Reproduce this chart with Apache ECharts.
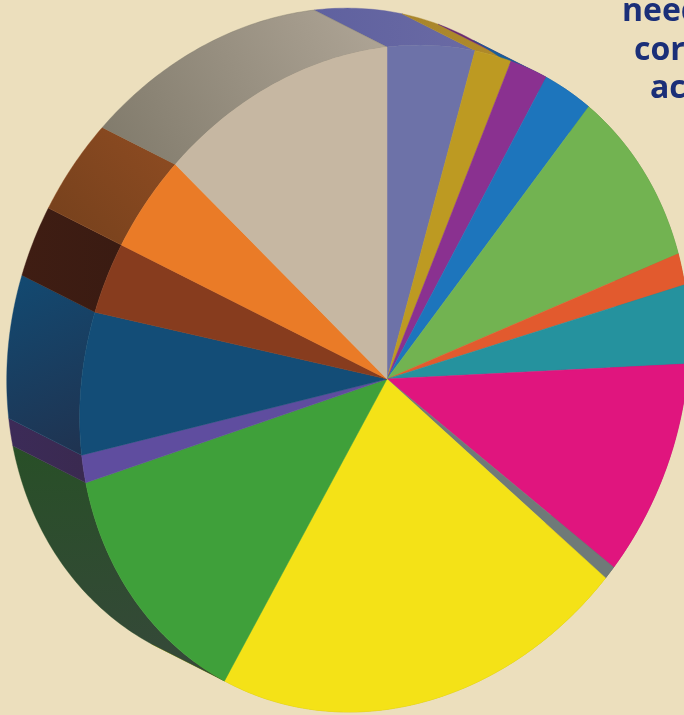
<!DOCTYPE html>
<html>
<head>
<meta charset="utf-8">
<title>Tilted pie</title>
<script src="https://cdn.jsdelivr.net/npm/echarts@6/dist/echarts.min.js"></script>
<style>
  html, body { margin: 0; padding: 0; background: #ecdfbd; overflow: hidden; }
  #chart { width: 684px; height: 715px; }
</style>
</head>
<body>
<div id="chart"></div>
<script>
// Shares of the whole, clockwise from twelve o'clock.
const categories = ['slate', 'gold', 'purple', 'blue', 'lime', 'vermilion', 'teal', 'magenta',
  'grey', 'yellow', 'green', 'violet', 'navy', 'brown', 'orange', 'sand'];
const shares = [4.17, 1.75, 1.81, 2.42, 8.39, 1.58, 4.08, 11.83,
  0.72, 21.11, 11.86, 1.39, 7.47, 3.86, 5.17, 12.39];
const faceColors = ['#6d72a8', '#bd9a22', '#8a3190', '#1d75bc', '#72b351', '#e25a2e', '#25929e', '#e0157e',
  '#6f7a78', '#f4e217', '#3fa03a', '#5f4d9f', '#134d77', '#873c1e', '#ea7b27', '#c6b7a2'];
// Side wall gradients: first colour, last colour, then x0, y0, x1, y1.
const wallColors = [
  ['#5f619f', '#6a6aa4', 0, 0, 1, 0], ['#a8852c', '#b08a28', 0, 0, 1, 0], ['#6a2a70', '#6a2a70', 0, 0, 1, 0], ['#175e99', '#175e99', 0, 0, 1, 0],
  ['#5a8f40', '#5a8f40', 0, 0, 1, 0], ['#b34824', '#b34824', 0, 0, 1, 0], ['#1d747e', '#1d747e', 0, 0, 1, 0], ['#b31165', '#b31165', 0, 0, 1, 0],
  ['#586160', '#586160', 0, 0, 1, 0], ['#c3b512', '#c3b512', 0, 0, 1, 0], ['#284f27', '#36483a', 0, 0, 0, 1], ['#3c2b58', '#3a2a50', 0, 0, 1, 0],
  ['#124a72', '#20324f', 0, 0, 1, 1], ['#3f1d13', '#3a1b12', 0, 0, 1, 0], ['#8f4c22', '#74401c', 1, 0, 0, 1], ['#7f796a', '#b0a697', 0, 1, 1, 0]
];
const lines = [
  { text: 'need', left: 622, base: 28 },
  { text: 'core', left: 634, base: 67 },
  { text: 'act', left: 650, base: 105 }
];

// Rim of the tilted disc, as a conic around the apex.
const rim = { a: 1.0925e-5, b: 2.3325e-6, c: 9.118e-6, d: 5.9e-5, e: 1.4e-5 };
const apex = [387, 379];
const lift = [-73, -37];

function rimPoint(deg, shift) {
  const t = deg * Math.PI / 180, x = Math.sin(t), y = -Math.cos(t);
  const q = rim.a * x * x + rim.b * x * y + rim.c * y * y;
  const l = rim.d * x + rim.e * y;
  const r = (-l + Math.sqrt(l * l + 4 * q)) / (2 * q);
  return [apex[0] + r * x + shift[0], apex[1] + r * y + shift[1]];
}

function arc(from, to, shift) {
  const n = Math.max(2, Math.ceil((to - from) / 0.75));
  const pts = [];
  for (let i = 0; i <= n; i++) pts.push(rimPoint(from + (to - from) * i / n, shift));
  return pts;
}

const total = shares.reduce((s, v) => s + v, 0);
function sweep(index, api) {
  let before = 0;
  for (let i = 0; i < index; i++) before += shares[i];
  const from = before / total * 360;
  return [from, from + api.value(0) / total * 360];
}

function renderWall(params, api) {
  const [from, to] = sweep(params.dataIndex, api);
  const g = wallColors[params.dataIndex];
  const near = arc(from, to, [0, 0]);
  const far = arc(from, to, lift).reverse();
  const fill = new echarts.graphic.LinearGradient(g[2], g[3], g[4], g[5], [
    { offset: 0, color: g[0] }, { offset: 1, color: g[1] }
  ]);
  return {
    type: 'polygon',
    shape: { points: near.concat(far) },
    style: { fill: fill, stroke: g[0], lineWidth: 0.4 }
  };
}

function renderFace(params, api) {
  const [from, to] = sweep(params.dataIndex, api);
  const color = faceColors[params.dataIndex];
  return {
    type: 'polygon',
    shape: { points: [apex].concat(arc(from, to, [0, 0])) },
    style: { fill: color, stroke: color, lineWidth: 0.5 }
  };
}

const chart = echarts.init(document.getElementById('chart'), null, { renderer: 'canvas' });
chart.setOption({
  animation: false,
  backgroundColor: '#ecdfbd',
  tooltip: { show: false },
  series: [
    { type: 'custom', name: 'walls', coordinateSystem: 'none', silent: true, z: 1, renderItem: renderWall, data: shares },
    { type: 'custom', name: 'faces', coordinateSystem: 'none', silent: true, z: 2, renderItem: renderFace, data: shares }
  ],
  graphic: lines.map(l => ({
    type: 'text', x: l.left, y: l.base, z: 5,
    style: { text: l.text, fill: '#1b2f78', font: '700 32px "Open Sans", sans-serif', textVerticalAlign: 'bottom' }
  }))
});
</script>
</body>
</html>
